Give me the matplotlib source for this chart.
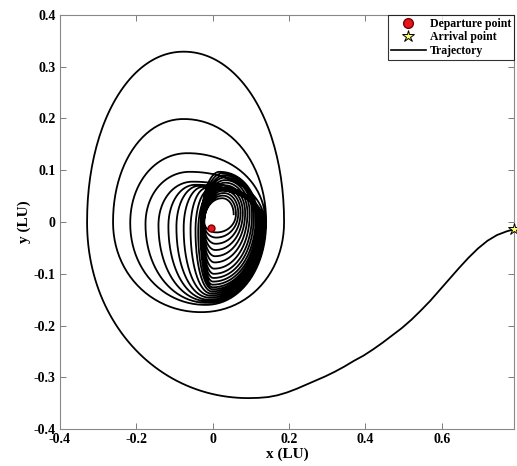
import numpy as np
import matplotlib
matplotlib.use("Agg")
import matplotlib.pyplot as plt
from matplotlib.lines import Line2D

# ---- data (LU) ----
# extreme points of each spiral revolution, innermost -> outermost;
# the last entry is the final revolution before the escape arc
right_x = [0.055, 0.061, 0.067, 0.073, 0.079, 0.085, 0.091, 0.097, 0.103, 0.108, 0.113, 0.117,
           0.120, 0.122, 0.124, 0.126, 0.128, 0.130, 0.132, 0.135, 0.138, 0.140, 0.187]
right_y = [0.015, 0.016, 0.017, 0.018, 0.018, 0.018, 0.017, 0.016, 0.015, 0.013, 0.011, 0.009,
           0.007, 0.006, 0.005, 0.004, 0.003, 0.002, 0.001, 0.000, 0.000, 0.000, 0.000]
top_x = [0.025, 0.027, 0.029, 0.030, 0.031, 0.032, 0.033, 0.033, 0.032, 0.030, 0.025, 0.018,
         0.005, -0.005, -0.015, -0.025, -0.035, -0.045, -0.052, -0.060, -0.066, -0.076, -0.076]
top_y = [0.046, 0.051, 0.056, 0.061, 0.066, 0.071, 0.076, 0.081, 0.086, 0.090, 0.094, 0.097,
         0.062, 0.064, 0.066, 0.068, 0.070, 0.072, 0.078, 0.097, 0.133, 0.199, 0.329]
left_x = [-0.022, -0.0225, -0.023, -0.0235, -0.024, -0.025, -0.026, -0.027, -0.028, -0.029, -0.030, -0.032,
          -0.038, -0.045, -0.058, -0.076, -0.095, -0.116, -0.142, -0.176, -0.216, -0.261, -0.329]
left_y = [0.000, -0.002, -0.004, -0.006, -0.008, -0.010, -0.012, -0.014, -0.016, -0.018, -0.020, -0.020,
          -0.018, -0.016, -0.014, -0.012, -0.010, -0.008, -0.006, -0.004, -0.002, 0.000, 0.000]
bottom_x = [0.010, 0.009, 0.008, 0.007, 0.006, 0.005, 0.004, 0.003, 0.002, 0.001, 0.000, 0.000,
            0.000, -0.002, -0.004, -0.006, -0.008, -0.010, -0.012, -0.015, -0.018, -0.030, 0.095]
bottom_y = [-0.020, -0.030, -0.042, -0.054, -0.066, -0.078, -0.090, -0.100, -0.108, -0.115, -0.121, -0.126,
            -0.130, -0.134, -0.138, -0.142, -0.146, -0.150, -0.153, -0.156, -0.160, -0.174, -0.340]

# escape arc after the last bottom point
escape_x = [0.095, 0.12, 0.145, 0.17, 0.195, 0.22, 0.245, 0.27, 0.295, 0.32, 0.345, 0.37,
            0.395, 0.42, 0.445, 0.47, 0.495, 0.52, 0.545, 0.57, 0.595, 0.62, 0.645, 0.67,
            0.695, 0.72, 0.745, 0.77, 0.789]
escape_y = [-0.340, -0.3395, -0.338, -0.3345, -0.329, -0.322, -0.314, -0.306, -0.298, -0.289, -0.279, -0.268,
            -0.258, -0.246, -0.233, -0.219, -0.205, -0.189, -0.171, -0.152, -0.131, -0.110, -0.089, -0.069,
            -0.051, -0.036, -0.025, -0.018, -0.014]

departure = (-0.005, -0.012)
arrival = (0.789, -0.014)

xticks = [-0.4, -0.2, 0, 0.2, 0.4, 0.6]
xticklabels = ["-0.4", "-0.2", "0", "0.2", "0.4", "0.6"]
yticks = [-0.4, -0.3, -0.2, -0.1, 0, 0.1, 0.2, 0.3, 0.4]
yticklabels = ["-0.4", "-0.3", "-0.2", "-0.1", "0", "0.1", "0.2", "0.3", "0.4"]

SQUARE = 2.05  # superellipse exponent for the arcs


def quarter(p, q, start_vertical, n=50):
    """quarter (super)ellipse arc between two extreme points"""
    th = np.linspace(0, np.pi / 2, n)
    c = np.cos(th) ** (2.0 / SQUARE)
    s = np.sin(th) ** (2.0 / SQUARE)
    if start_vertical:
        cx, cy = q[0], p[1]
        x = cx + (p[0] - cx) * c
        y = cy + (q[1] - cy) * s
    else:
        cx, cy = p[0], q[1]
        x = cx + (q[0] - cx) * s
        y = cy + (p[1] - cy) * c
    return x, y


pts = []
for k in range(len(right_x)):
    pts += [(right_x[k], right_y[k]), (top_x[k], top_y[k]),
            (left_x[k], left_y[k]), (bottom_x[k], bottom_y[k])]

xs, ys = [], []
for i in range(len(pts) - 1):
    x, y = quarter(pts[i], pts[i + 1], start_vertical=(i % 2 == 0))
    xs.append(x)
    ys.append(y)
xs.append(np.array(escape_x))
ys.append(np.array(escape_y))
traj_x = np.concatenate(xs)
traj_y = np.concatenate(ys)

plt.rcParams['font.family'] = ['Liberation Serif', 'DejaVu Serif']
plt.rcParams['font.weight'] = 'bold'

fig = plt.figure(figsize=(5.17, 4.66), dpi=100)
ax = fig.add_axes([0.116, 0.079, 0.878, 0.889])

ax.plot(traj_x, traj_y, color='black', lw=1.3, zorder=2, solid_joinstyle='round')
ax.plot([departure[0]], [departure[1]], ls='none', marker='o', color='#e8141c',
        markeredgecolor='#7a0000', markersize=5, zorder=3)
ax.plot([arrival[0]], [arrival[1]], ls='none', marker='*', color='#ffff66',
        markeredgecolor='black', markeredgewidth=0.7, markersize=9, zorder=3, clip_on=False)

ax.set_xlim(-0.4, 0.789)
ax.set_ylim(-0.4, 0.4)
ax.set_xticks(xticks)
ax.set_xticklabels(xticklabels)
ax.set_yticks(yticks)
ax.set_yticklabels(yticklabels)
ax.tick_params(direction='in', top=True, right=True, length=4, width=0.6,
               color='#666666', labelsize=10, pad=3)
for lab in ax.get_xticklabels() + ax.get_yticklabels():
    lab.set_fontweight('bold')
for s in ax.spines.values():
    s.set_color('#888888')
    s.set_linewidth(0.8)

ax.set_xlabel('x (LU)', fontsize=11, fontweight='bold', labelpad=1)
ax.set_ylabel('y (LU)', fontsize=11, fontweight='bold', labelpad=2)

handles = [
    Line2D([], [], marker='o', ls='none', color='#e8141c', markeredgecolor='#7a0000', markersize=7),
    Line2D([], [], marker='*', ls='none', color='#ffff66', markeredgecolor='black',
           markeredgewidth=0.7, markersize=9),
    Line2D([], [], color='black', lw=1.2),
]
leg = ax.legend(handles, ['Departure point', 'Arrival point', 'Trajectory'],
                loc='upper right', prop={'weight': 'bold', 'size': 8.5},
                frameon=True, fancybox=False, borderpad=0.25, labelspacing=0.12,
                handlelength=3.0, handletextpad=0.3, borderaxespad=0.0)
leg.get_frame().set_edgecolor('black')
leg.get_frame().set_linewidth(0.8)

fig.savefig('out.png', dpi=100)
